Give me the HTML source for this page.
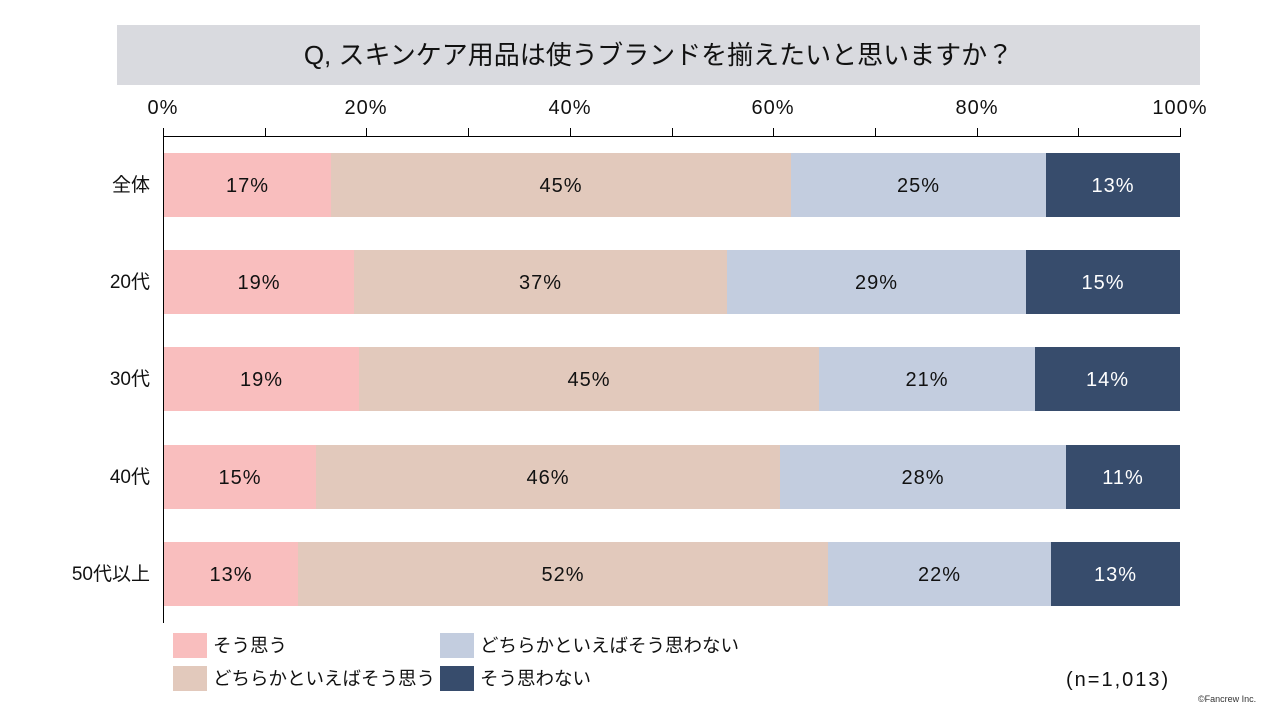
<!DOCTYPE html>
<html><head><meta charset="utf-8"><style>
body{margin:0;width:1280px;height:720px;background:#fff;position:relative;overflow:hidden;font-family:"Liberation Sans","Noto Sans CJK JP",sans-serif;color:#111}
div{position:absolute}
.t{font-size:20px;line-height:20px;transform:translateX(-50%);white-space:nowrap;letter-spacing:1px}
.seg{height:64px}
.lab{font-size:20px;line-height:66px;text-align:center;white-space:nowrap;letter-spacing:1px}
.rl{font-size:19px;right:1130px;line-height:66px;white-space:nowrap}
.lg{font-size:18.5px;line-height:26px;white-space:nowrap}
</style></head><body>
<div style="left:117px;top:25px;width:1083px;height:60px;background:#d9dadf;font-size:26px;line-height:60px;text-align:center">Q, スキンケア用品は使うブランドを揃えたいと思いますか？</div>
<div class="t" style="left:163px;top:98px">0%</div>
<div class="t" style="left:366px;top:98px">20%</div>
<div class="t" style="left:570px;top:98px">40%</div>
<div class="t" style="left:773px;top:98px">60%</div>
<div class="t" style="left:977px;top:98px">80%</div>
<div class="t" style="left:1180px;top:98px">100%</div>
<div style="left:163px;top:136px;width:1018px;height:1px;background:#000"></div>
<div style="left:163px;top:128px;width:1px;height:495px;background:#000"></div>
<div style="left:265px;top:128px;width:1px;height:8px;background:#000"></div>
<div style="left:366px;top:128px;width:1px;height:8px;background:#000"></div>
<div style="left:468px;top:128px;width:1px;height:8px;background:#000"></div>
<div style="left:570px;top:128px;width:1px;height:8px;background:#000"></div>
<div style="left:672px;top:128px;width:1px;height:8px;background:#000"></div>
<div style="left:773px;top:128px;width:1px;height:8px;background:#000"></div>
<div style="left:875px;top:128px;width:1px;height:8px;background:#000"></div>
<div style="left:977px;top:128px;width:1px;height:8px;background:#000"></div>
<div style="left:1078px;top:128px;width:1px;height:8px;background:#000"></div>
<div style="left:1180px;top:128px;width:1px;height:8px;background:#000"></div>

<div class="rl" style="top:153px">全体</div>
<div class="seg lab" style="top:153px;left:164px;width:167px;background:#f9bebe">17%</div>
<div class="seg lab" style="top:153px;left:331px;width:460px;background:#e2c9bc">45%</div>
<div class="seg lab" style="top:153px;left:791px;width:255px;background:#c3cddf">25%</div>
<div class="seg lab" style="top:153px;left:1046px;width:134px;background:#374c6c;color:#fff">13%</div>

<div class="rl" style="top:250px">20代</div>
<div class="seg lab" style="top:250px;left:164px;width:190px;background:#f9bebe">19%</div>
<div class="seg lab" style="top:250px;left:354px;width:373px;background:#e2c9bc">37%</div>
<div class="seg lab" style="top:250px;left:727px;width:299px;background:#c3cddf">29%</div>
<div class="seg lab" style="top:250px;left:1026px;width:154px;background:#374c6c;color:#fff">15%</div>

<div class="rl" style="top:347px">30代</div>
<div class="seg lab" style="top:347px;left:164px;width:195px;background:#f9bebe">19%</div>
<div class="seg lab" style="top:347px;left:359px;width:460px;background:#e2c9bc">45%</div>
<div class="seg lab" style="top:347px;left:819px;width:216px;background:#c3cddf">21%</div>
<div class="seg lab" style="top:347px;left:1035px;width:145px;background:#374c6c;color:#fff">14%</div>

<div class="rl" style="top:445px">40代</div>
<div class="seg lab" style="top:445px;left:164px;width:152px;background:#f9bebe">15%</div>
<div class="seg lab" style="top:445px;left:316px;width:464px;background:#e2c9bc">46%</div>
<div class="seg lab" style="top:445px;left:780px;width:286px;background:#c3cddf">28%</div>
<div class="seg lab" style="top:445px;left:1066px;width:114px;background:#374c6c;color:#fff">11%</div>

<div class="rl" style="top:542px">50代以上</div>
<div class="seg lab" style="top:542px;left:164px;width:134px;background:#f9bebe">13%</div>
<div class="seg lab" style="top:542px;left:298px;width:530px;background:#e2c9bc">52%</div>
<div class="seg lab" style="top:542px;left:828px;width:223px;background:#c3cddf">22%</div>
<div class="seg lab" style="top:542px;left:1051px;width:129px;background:#374c6c;color:#fff">13%</div>

<div style="left:173px;top:633px;width:34px;height:25px;background:#f9bebe"></div>
<div class="lg" style="left:213px;top:633px">そう思う</div>
<div style="left:173px;top:666px;width:34px;height:25px;background:#e2c9bc"></div>
<div class="lg" style="left:213px;top:666px">どちらかといえばそう思う</div>
<div style="left:440px;top:633px;width:34px;height:25px;background:#c3cddf"></div>
<div class="lg" style="left:480px;top:633px">どちらかといえばそう思わない</div>
<div style="left:440px;top:666px;width:34px;height:25px;background:#374c6c"></div>
<div class="lg" style="left:480px;top:666px">そう思わない</div>
<div style="left:1066px;top:668px;font-size:20px;line-height:24px;letter-spacing:2px">(n=1,013)</div>
<div style="left:1198px;top:694px;font-size:9px;color:#333">©Fancrew Inc.</div>
</body></html>
